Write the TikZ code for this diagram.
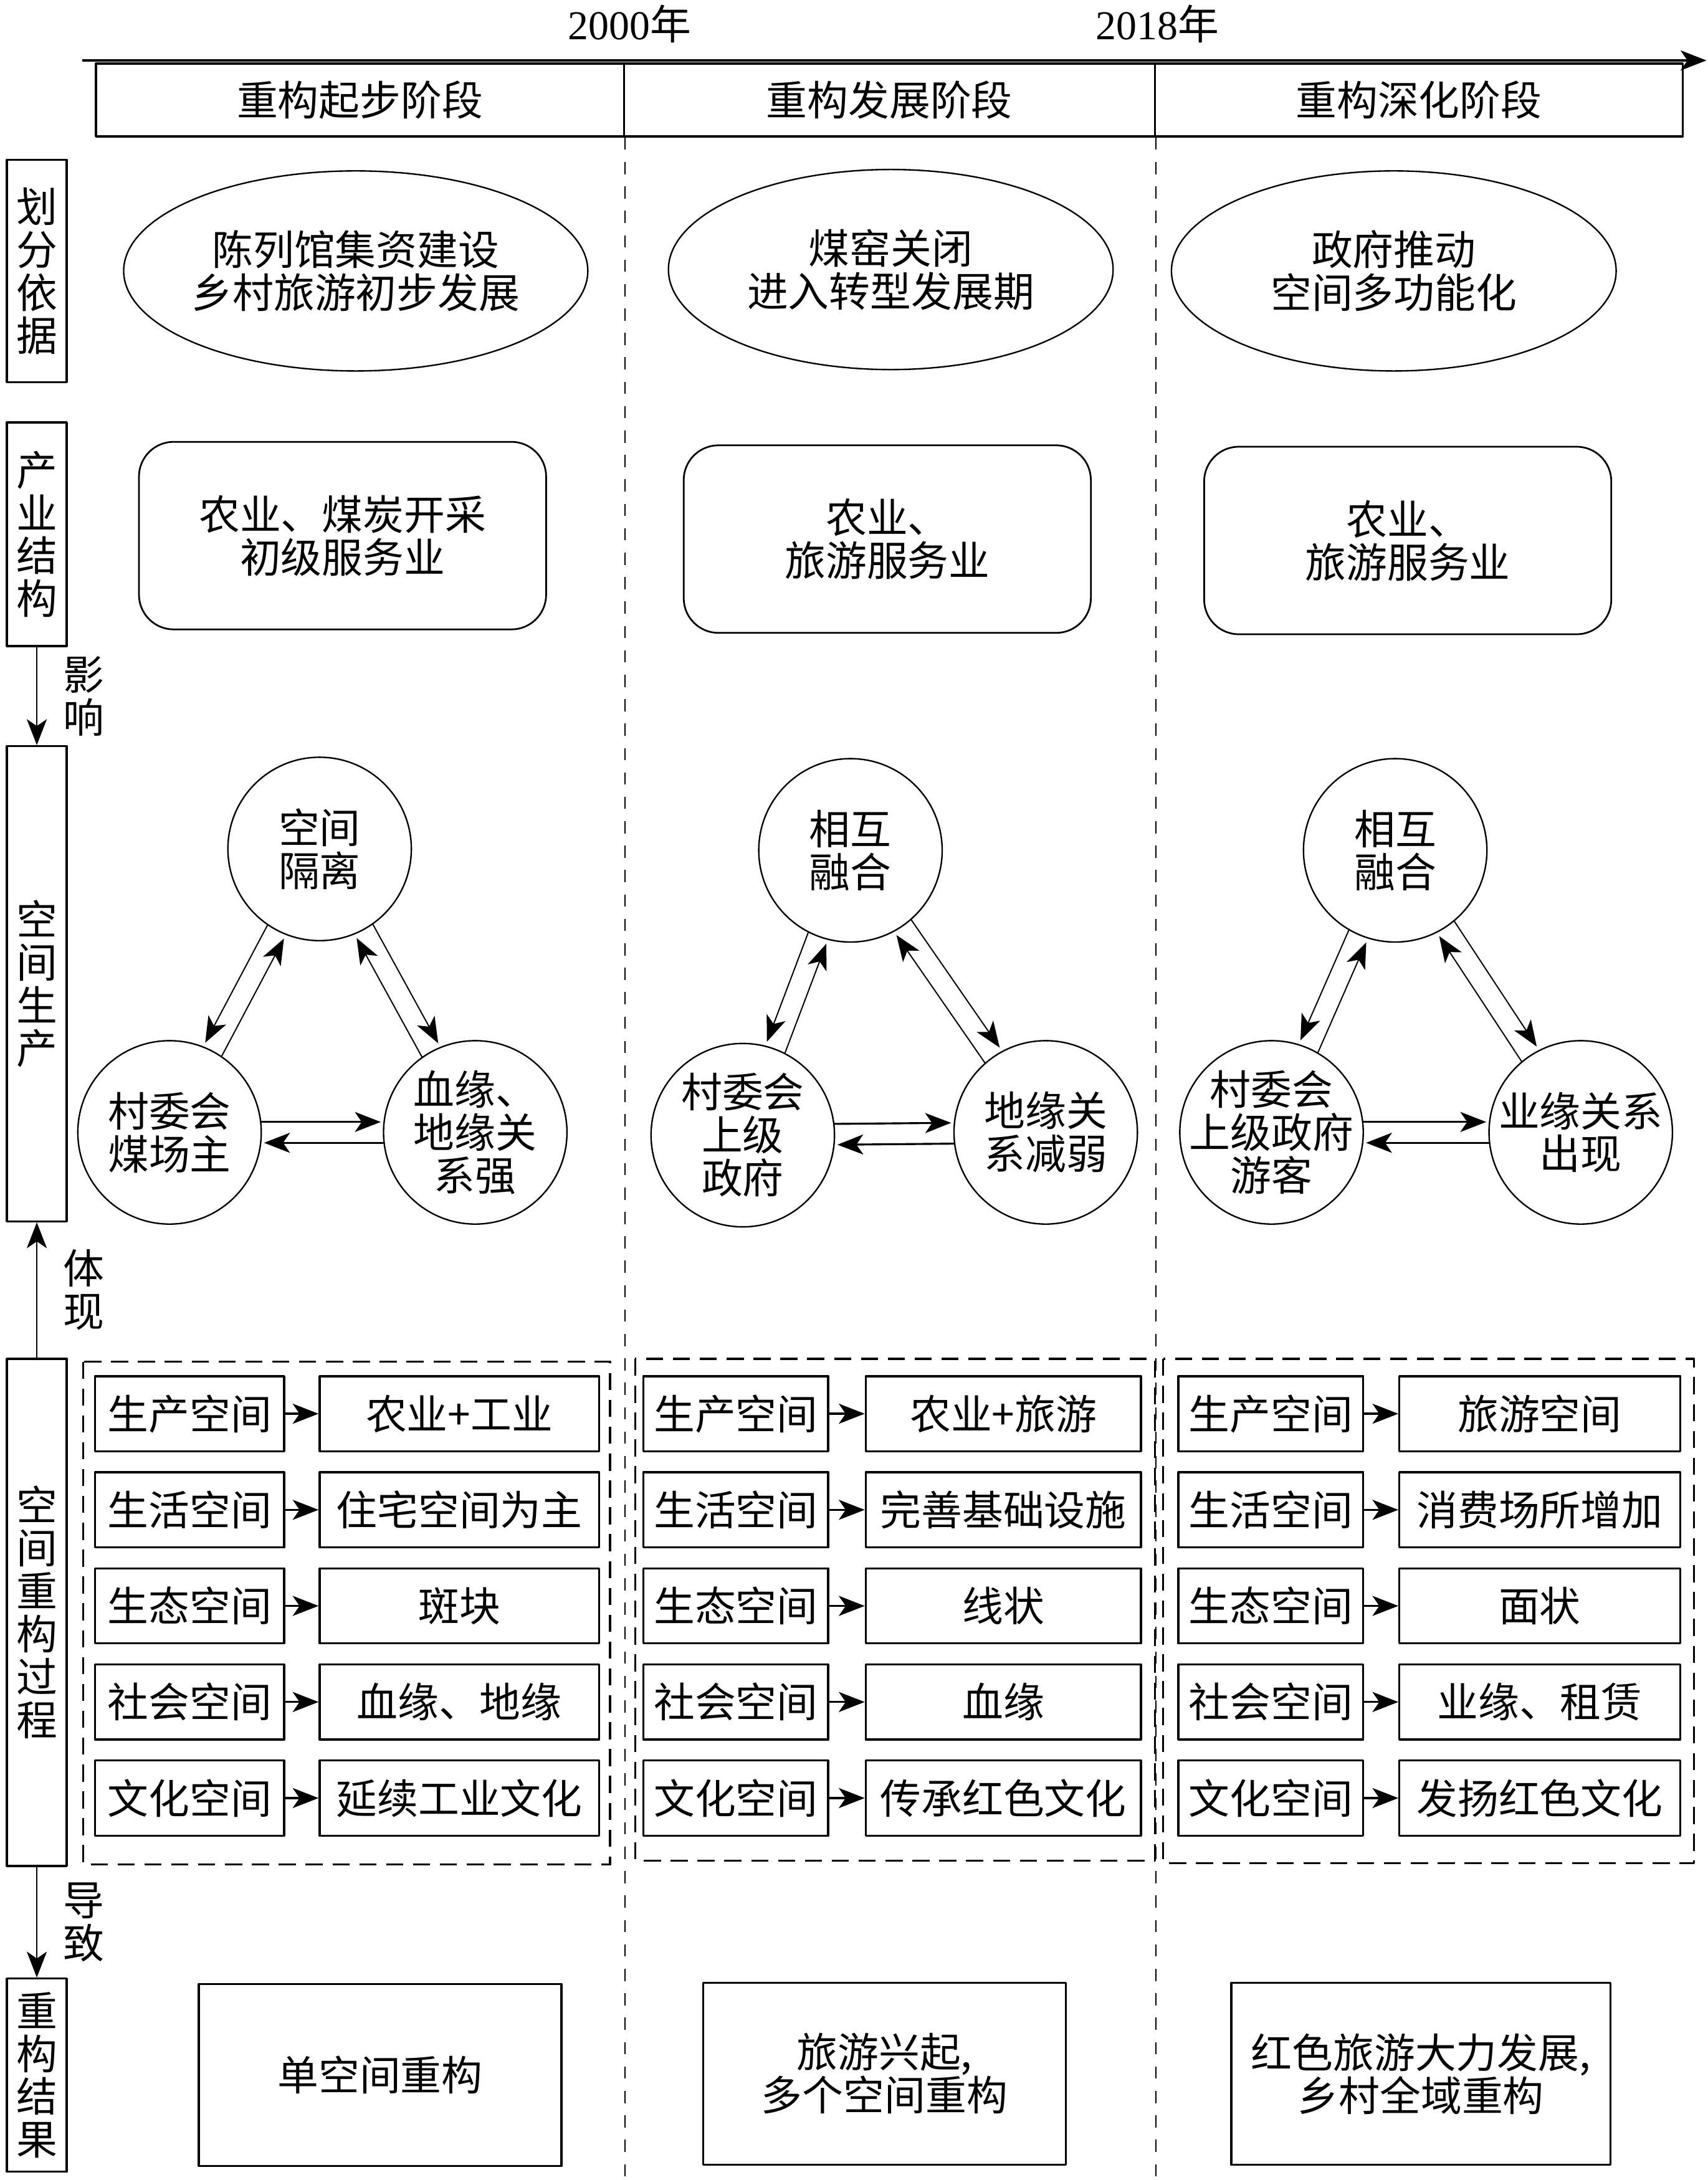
\documentclass[tikz,border=0pt]{standalone}
\usepackage{fontspec}
\setmainfont{Liberation Serif}
\newfontfamily\cjk{Noto Sans CJK SC}
\usetikzlibrary{shapes.geometric,calc,arrows.meta}
\begin{document}
\begin{tikzpicture}[font=\cjk\fontsize{16.8}{17.6}\selectfont, line join=round, >={Stealth[length=10.6pt,width=8.2pt,inset=2.8pt]},
	side/.style={draw,line width=.85pt,minimum width=.86cm,align=center,inner sep=0pt},
	stage/.style={draw,line width=.85pt,minimum height=1.05cm,inner sep=0pt},
	oval/.style={draw,ellipse,line width=.6pt,minimum width=6.4cm,minimum height=2.88cm,align=center,inner sep=0pt},
	rbox/.style={draw,rounded corners=.5cm,line width=.7pt,minimum width=5.86cm,minimum height=2.7cm,align=center},
	circ/.style={draw,circle,line width=.6pt,minimum size=2.64cm,align=center,inner sep=-8pt},
	sbox/.style={draw,line width=.85pt,minimum height=1.08cm,inner sep=0pt},
	res/.style={draw,line width=.85pt,minimum width=5.22cm,minimum height=2.62cm,align=center},
	dbox/.style={line width=.8pt,dash pattern=on 7pt off 4pt},
	vline/.style={line width=.5pt,dash pattern=on 5pt off 5pt},
	lab/.style={midway,right=.37cm,inner sep=0pt,align=center},
	thinarr/.style={->,line width=.5pt,shorten <=1.32cm,shorten >=1.38cm},
	thickarr/.style={->,line width=.8pt,shorten <=1.32cm,shorten >=1.36cm}]
	\useasboundingbox (0,0) rectangle (24.58,-31.38);
	% Trục thời gian
	\coordinate (a0) at (1.18,-.87);
	\coordinate (a1) at (24.56,-.87);
	\draw[->,line width=.85pt] (a0)--(a1);
	\node (y1) at (9.06,-.34) {{\rmfamily 2000}年};
	\node (y2) at (16.66,-.34) {{\rmfamily 2018}年};
	% Các giai đoạn
	\node[stage,minimum width=7.6cm] (s1) at (5.18,-1.44) {重构起步阶段};
	\node[stage,minimum width=7.64cm] (s2) at (12.8,-1.44) {重构发展阶段};
	\node[stage,minimum width=7.6cm] (s3) at (20.42,-1.44) {重构深化阶段};
	\draw[vline] (s1.south east)--(s1.south east |- 0,-31.38);
	\draw[vline] (s2.south east)--(s2.south east |- 0,-31.38);
	% Cột bên trái
	\node[side,minimum height=3.2cm] (hf) at (.53,-3.9) {划\\分\\依\\据};
	\node[side,minimum height=3.22cm] (cy) at (.53,-7.69) {产\\业\\结\\构};
	\node[side,minimum height=6.84cm] (kj) at (.53,-14.16) {空\\间\\生\\产};
	\node[side,minimum height=7.3cm] (cg) at (.53,-23.21) {空\\间\\重\\构\\过\\程};
	\node[side,minimum height=2.78cm] (jg) at (.53,-29.87) {重\\构\\结\\果};
	\draw[->,line width=.6pt] (cy.south)--(kj.north) node[lab] {影\\响};
	\draw[->,line width=.6pt] (cg.north)--(kj.south) node[lab] {体\\现};
	\draw[->,line width=.6pt] (cg.south)--(jg.north) node[lab] {导\\致};
	% Hàng 1, 2
	\node[oval] (e1) at (5.12,-3.9) {陈列馆集资建设\\乡村旅游初步发展};
	\node[oval] (e2) at (12.82,-3.88) {煤窑关闭\\进入转型发展期};
	\node[oval] (e3) at (20.06,-3.9) {政府推动\\空间多功能化};
	\node[rbox] (c1) at (4.93,-7.71) {农业、煤炭开采\\初级服务业};
	\node[rbox] (c2) at (12.77,-7.76) {农业、\\旅游服务业};
	\node[rbox] (c3) at (20.26,-7.78) {农业、\\旅游服务业};
	% Không gian sản xuất
	\node[circ] (t1) at (4.6,-12.22) {空间\\隔离};
	\node[circ] (l1) at (2.44,-16.3) {村委会\\煤场主};
	\node[circ] (r1) at (6.84,-16.3) {血缘、\\地缘关\\系强};
	\node[circ] (t2) at (12.24,-12.24) {相互\\融合};
	\node[circ] (l2) at (10.69,-16.34) {村委会\\上级\\政府};
	\node[circ] (r2) at (15.05,-16.3) {地缘关\\系减弱};
	\node[circ] (t3) at (20.08,-12.24) {相互\\融合};
	\node[circ] (l3) at (18.3,-16.3) {村委会\\上级政府\\游客};
	\node[circ] (r3) at (22.75,-16.3) {业缘关系\\出现};
	\foreach \c in {1,2,3}{
		\draw[thinarr] ($(t\c)!.15cm!-90:(l\c)$)--($(l\c)!.15cm!90:(t\c)$);
		\draw[thinarr] ($(l\c)!.15cm!-90:(t\c)$)--($(t\c)!.15cm!90:(l\c)$);
		\draw[thinarr] ($(t\c)!.15cm!90:(r\c)$)--($(r\c)!.15cm!-90:(t\c)$);
		\draw[thinarr] ($(r\c)!.15cm!90:(t\c)$)--($(t\c)!.15cm!-90:(r\c)$);
		\draw[thickarr] ($(l\c)!.15cm!90:(r\c)$)--($(r\c)!.15cm!-90:(l\c)$);
		\draw[thickarr] ($(r\c)!.15cm!90:(l\c)$)--($(l\c)!.15cm!-90:(r\c)$);
	}
	% Quá trình tái cấu trúc
	\draw[dbox] (1.2,-19.6) rectangle (8.78,-26.84);
	\draw[dbox] (9.14,-19.56) rectangle (16.62,-26.78);
	\draw[dbox] (16.74,-19.56) rectangle (24.38,-26.82);
	\foreach \a/\b/\c/\d [count=\i] in {生产空间/农业+工业/农业+旅游/旅游空间,
		生活空间/住宅空间为主/完善基础设施/消费场所增加,
		生态空间/斑块/线状/面状,
		社会空间/血缘、地缘/血缘/业缘、租赁,
		文化空间/延续工业文化/传承红色文化/发扬红色文化}{
		\node[sbox,minimum width=2.72cm] (L1\i) at (2.73,{-20.35-1.383*(\i-1)}) {\a};
		\node[sbox,minimum width=4.02cm] (R1\i) at (6.61,{-20.35-1.383*(\i-1)}) {\b};
		\node[sbox,minimum width=2.66cm] (L2\i) at (10.59,{-20.35-1.383*(\i-1)}) {\a};
		\node[sbox,minimum width=3.96cm] (R2\i) at (14.44,{-20.35-1.383*(\i-1)}) {\c};
		\node[sbox,minimum width=2.66cm] (L3\i) at (18.29,{-20.35-1.383*(\i-1)}) {\a};
		\node[sbox,minimum width=4.04cm] (R3\i) at (22.16,{-20.35-1.383*(\i-1)}) {\d};
		\draw[->,line width=.85pt] (L1\i)--(R1\i);
		\draw[->,line width=.85pt] (L2\i)--(R2\i);
		\draw[->,line width=.85pt] (L3\i)--(R3\i);
	}
	% Kết quả
	\node[res] (g1) at (5.47,-29.87) {单空间重构};
	\node[res] (g2) at (12.73,-29.85) {旅游兴起,\\多个空间重构};
	\node[res,minimum width=5.46cm] (g3) at (20.45,-29.85) {红色旅游大力发展,\\乡村全域重构};
\end{tikzpicture}
\end{document}
